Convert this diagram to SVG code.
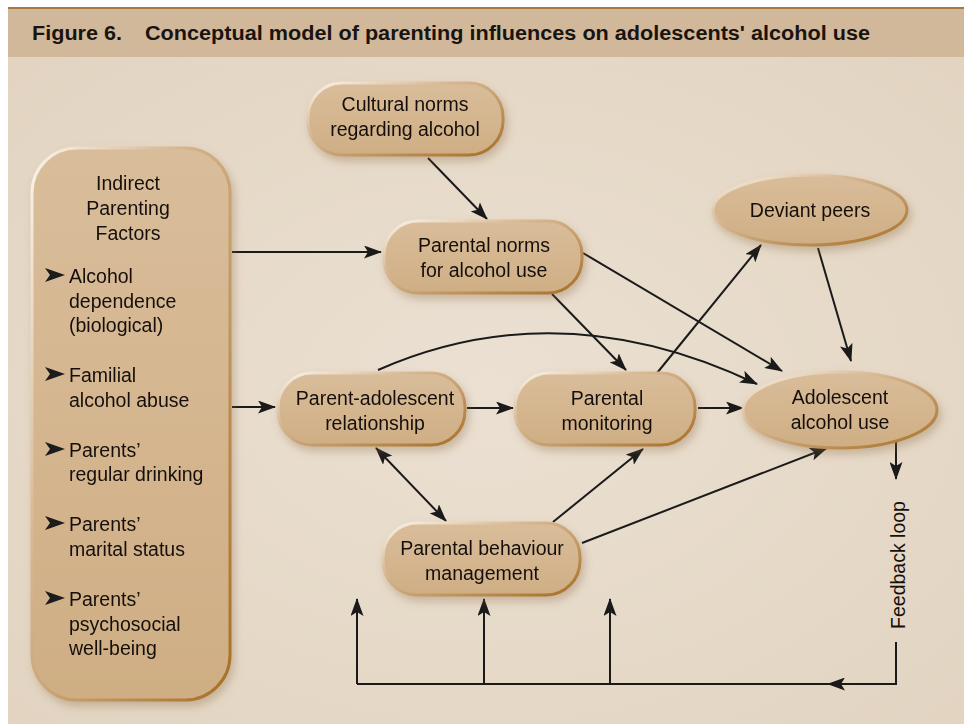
<svg xmlns="http://www.w3.org/2000/svg" width="964" height="724" viewBox="0 0 964 724">
<style>
.t{font-family:"Liberation Sans",Arial,sans-serif;font-size:19.5px;fill:#15100c}
.c{text-anchor:middle}
.node{fill:url(#nf);stroke:url(#ns);stroke-width:3}
.ln{fill:none;stroke:#1a1a1a;stroke-width:2}
.arr{marker-end:url(#ah)}
</style>
<defs>
<linearGradient id="nf" x1="0" y1="0" x2="0" y2="1">
<stop offset="0" stop-color="#d9bd9a"/><stop offset="1" stop-color="#cfae84"/>
</linearGradient>
<linearGradient id="ns" x1="0" y1="0" x2="1" y2="1">
<stop offset="0" stop-color="#fbf4ea"/><stop offset="0.35" stop-color="#d7b995"/><stop offset="1" stop-color="#a86e24"/>
</linearGradient>
<filter id="sh" x="-10%" y="-10%" width="130%" height="140%">
<feDropShadow dx="3" dy="5" stdDeviation="4" flood-color="#8a6a45" flood-opacity="0.35"/>
</filter>
<marker id="ah" viewBox="0 0 18 13" refX="17" refY="6.5" markerWidth="18" markerHeight="13" markerUnits="userSpaceOnUse" orient="auto">
<path d="M0,0 L18,6.5 L0,13 L4,6.5 Z" fill="#1a1a1a"/>
</marker>
<marker id="as" viewBox="0 0 18 13" refX="1" refY="6.5" markerWidth="18" markerHeight="13" markerUnits="userSpaceOnUse" orient="auto">
<path d="M18,0 L0,6.5 L18,13 L14,6.5 Z" fill="#1a1a1a"/>
</marker>
<radialGradient id="bg" cx="0.5" cy="0.5" r="0.7">
<stop offset="0" stop-color="#ebe0d2"/><stop offset="1" stop-color="#e2d4c1"/>
</radialGradient>
</defs>
<rect x="0" y="0" width="964" height="724" fill="#ffffff"/>
<rect x="8" y="57" width="956" height="667" fill="url(#bg)"/>
<rect x="8" y="8" width="956" height="49" fill="#d2b89a"/>
<rect x="8" y="7" width="956" height="2" fill="#a8783e"/>
<g id="title">
<text x="32" y="40" font-family="'Liberation Sans',Arial,sans-serif" font-weight="bold" font-size="20" fill="#1a1410" textLength="90" lengthAdjust="spacingAndGlyphs">Figure 6.</text>
<text x="145" y="40" font-family="'Liberation Sans',Arial,sans-serif" font-weight="bold" font-size="20" fill="#1a1410" textLength="725" lengthAdjust="spacingAndGlyphs">Conceptual model of parenting influences on adolescents' alcohol use</text>
</g>

<g id="connectors">
<line class="ln arr" x1="232" y1="252" x2="381" y2="252"/>
<line class="ln arr" x1="232" y1="407" x2="275" y2="407"/>
<line class="ln arr" x1="428" y1="158" x2="487" y2="219"/>
<line class="ln arr" x1="552" y1="294" x2="626" y2="370"/>
<line class="ln arr" x1="583" y1="253" x2="782" y2="371"/>
<line class="ln arr" x1="657" y1="373" x2="761" y2="245"/>
<line class="ln arr" x1="818" y1="248" x2="851" y2="361"/>
<path class="ln arr" d="M378,370 Q560,290 757,384"/>
<line class="ln arr" x1="467" y1="408" x2="513" y2="408"/>
<line class="ln arr" x1="698" y1="408" x2="743" y2="408"/>
<line class="ln arr" x1="376" y1="448" x2="446" y2="521" marker-start="url(#as)"/>
<line class="ln arr" x1="553" y1="522" x2="643" y2="449"/>
<line class="ln arr" x1="582" y1="543" x2="827" y2="448"/>
<line class="ln arr" x1="896" y1="432" x2="896" y2="479"/>
<polyline class="ln" points="896,642 896,684 357,684"/>
<line class="ln arr" x1="870" y1="684" x2="828" y2="684"/>
<line class="ln arr" x1="357" y1="684" x2="357" y2="599"/>
<line class="ln arr" x1="484" y1="684" x2="484" y2="599"/>
<line class="ln arr" x1="610" y1="684" x2="610" y2="599"/>
<text class="t c" transform="translate(905,565) rotate(-90)" font-size="20.5">Feedback loop</text>
</g>

<g id="indirect" filter="url(#sh)">
<rect class="node" x="32" y="148" width="198" height="552" rx="45"/>
<text class="t c" x="128" y="190">Indirect</text>
<text class="t c" x="128" y="215">Parenting</text>
<text class="t c" x="128" y="240">Factors</text>
<g fill="#1a1a1a">
<path d="M45,268 L65,275 L45,282 L50,275 Z"/>
<path d="M45,367 L65,374 L45,381 L50,374 Z"/>
<path d="M45,442 L65,449 L45,456 L50,449 Z"/>
<path d="M45,516 L65,523 L45,530 L50,523 Z"/>
<path d="M45,591 L65,598 L45,605 L50,598 Z"/>
</g>
<text class="t" x="69" y="283">Alcohol</text>
<text class="t" x="69" y="308">dependence</text>
<text class="t" x="69" y="332">(biological)</text>
<text class="t" x="69" y="382">Familial</text>
<text class="t" x="69" y="407">alcohol abuse</text>
<text class="t" x="69" y="457">Parents’</text>
<text class="t" x="69" y="481">regular drinking</text>
<text class="t" x="69" y="531">Parents’</text>
<text class="t" x="69" y="556">marital status</text>
<text class="t" x="69" y="606">Parents’</text>
<text class="t" x="69" y="631">psychosocial</text>
<text class="t" x="69" y="655">well-being</text>
</g>

<g id="cultural" filter="url(#sh)">
<rect class="node" x="308" y="83" width="195" height="72" rx="34"/>
<text class="t c" x="405" y="111">Cultural norms</text>
<text class="t c" x="405" y="136">regarding alcohol</text>
</g>

<g id="parental-norms" filter="url(#sh)">
<rect class="node" x="384" y="221" width="198" height="72" rx="34"/>
<text class="t c" x="484" y="252">Parental norms</text>
<text class="t c" x="484" y="277">for alcohol use</text>
</g>

<g id="deviant" filter="url(#sh)">
<ellipse class="node" cx="810" cy="210" rx="97" ry="35"/>
<text class="t c" x="810" y="217">Deviant peers</text>
</g>

<g id="parent-adolescent" filter="url(#sh)">
<rect class="node" x="278" y="373" width="187" height="72" rx="34"/>
<text class="t c" x="375" y="405">Parent-adolescent</text>
<text class="t c" x="375" y="430">relationship</text>
</g>

<g id="monitoring" filter="url(#sh)">
<rect class="node" x="515" y="373" width="180" height="72" rx="34"/>
<text class="t c" x="607" y="405">Parental</text>
<text class="t c" x="607" y="430">monitoring</text>
</g>

<g id="adolescent" filter="url(#sh)">
<ellipse class="node" cx="840" cy="410" rx="97" ry="38"/>
<text class="t c" x="840" y="404">Adolescent</text>
<text class="t c" x="840" y="429">alcohol use</text>
</g>

<g id="behaviour" filter="url(#sh)">
<rect class="node" x="383" y="523" width="197" height="72" rx="34"/>
<text class="t c" x="482" y="555">Parental  behaviour</text>
<text class="t c" x="482" y="580">management</text>
</g>
</svg>
